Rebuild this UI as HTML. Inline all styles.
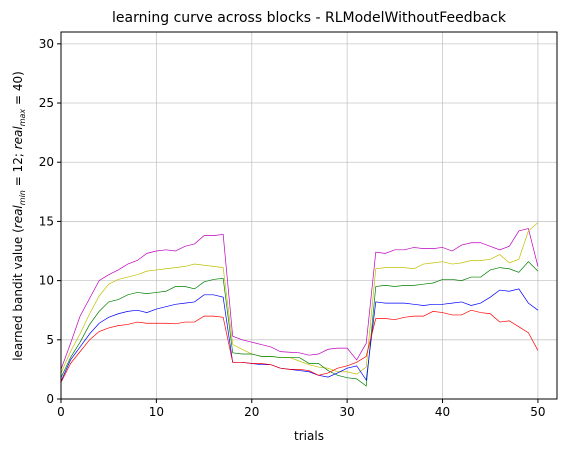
<!DOCTYPE html>
<html><head><meta charset="utf-8"><style>
body{margin:0;background:#fff;font-family:"Liberation Sans","DejaVu Sans",sans-serif;}
svg text{font-family:"DejaVu Sans","Liberation Sans",sans-serif;}
</style></head><body>
<svg id="chart" width="566" height="453" viewBox="0 0 566 453" xmlns="http://www.w3.org/2000/svg">
<rect width="566" height="453" fill="#fff"/>
<g id="grid"></g>
<g id="series"></g>
<rect x="61" y="32" width="496" height="367" fill="none" stroke="#000" stroke-width="1"/>
<g id="axes"></g>
<text x="309" y="22" font-size="14" text-anchor="middle">learning curve across blocks - RLModelWithoutFeedback</text>
<text x="309" y="440" font-size="12" text-anchor="middle">trials</text>
<text transform="translate(22,216) rotate(-90)" font-size="12" text-anchor="middle">learned bandit value (<tspan font-style="italic">real</tspan><tspan font-size="8" dy="3" font-style="italic">min</tspan><tspan dy="-3"> = 12; </tspan><tspan font-style="italic">real</tspan><tspan font-size="8" dy="3" font-style="italic">max</tspan><tspan dy="-3"> = 40)</tspan></text>
</svg>
<script>
const xTicks=[0,10,20,30,40,50];
const yTicks=[0,5,10,15,20,25,30];
const magentaValues=[2.5,4.7,7,8.5,10,10.5,10.9,11.4,11.7,12.3,12.5,12.6,12.5,12.9,13.1,13.8,13.8,13.9,5.3,5,4.8,4.6,4.4,4.0,3.95,3.9,3.7,3.8,4.2,4.3,4.3,3.3,4.7,12.4,12.3,12.6,12.6,12.8,12.7,12.7,12.8,12.5,13.0,13.2,13.2,12.9,12.6,12.9,14.2,14.4,11.2];
const yellowValues=[2.2,4,5.5,7.2,8.7,9.7,10.1,10.3,10.5,10.8,10.9,11,11.1,11.2,11.4,11.3,11.2,11.1,4.6,4.2,3.8,3.6,3.6,3.5,3.5,3.2,2.9,2.7,2.6,2.3,2.3,2.1,2.7,11.0,11.1,11.1,11.1,11.0,11.4,11.5,11.6,11.4,11.5,11.7,11.7,11.8,12.2,11.5,11.8,14.2,14.9];
const greenValues=[1.8,3.5,4.8,6.3,7.4,8.2,8.4,8.8,9.0,8.9,9.0,9.1,9.5,9.5,9.3,9.9,10.1,10.2,3.9,3.8,3.8,3.6,3.6,3.5,3.5,3.5,3.0,3.0,2.4,2.0,1.8,1.7,1.1,9.5,9.6,9.5,9.6,9.6,9.7,9.8,10.1,10.1,10.0,10.3,10.3,10.9,11.1,11.0,10.7,11.6,10.8];
const blueValues=[1.5,3.3,4.4,5.5,6.4,6.9,7.2,7.4,7.5,7.3,7.6,7.8,8.0,8.1,8.2,8.8,8.8,8.6,3.1,3.1,3.0,2.9,2.9,2.6,2.5,2.4,2.3,2.0,1.85,2.2,2.6,2.8,1.6,8.2,8.1,8.1,8.1,8.0,7.9,8.0,8.0,8.1,8.2,7.9,8.1,8.6,9.2,9.1,9.3,8.1,7.5];
const redValues=[1.4,3.0,4.0,5.0,5.7,6.0,6.2,6.3,6.5,6.4,6.4,6.4,6.35,6.5,6.5,7.0,7.0,6.9,3.1,3.1,3.0,3.0,2.9,2.6,2.5,2.5,2.4,2.0,2.2,2.6,2.8,3.1,3.6,6.8,6.8,6.7,6.9,7.0,7.0,7.4,7.3,7.1,7.1,7.5,7.3,7.2,6.5,6.6,6.1,5.6,4.1];
const seriesList=[["magenta",magentaValues,"#bf00bf"],["yellow",yellowValues,"#bfbf00"],["green",greenValues,"#008000"],["blue",blueValues,"#0000ff"],["red",redValues,"#ff0000"]];
const X0=61,X1=557,Y0=399,Y1=32,XMAX=52,YMAX=31;
function sx(v){return X0+(X1-X0)*v/XMAX;}
function sy(v){return Y0-(Y0-Y1)*v/YMAX;}
const NS="http://www.w3.org/2000/svg";
function mk(t,a,p){const e=document.createElementNS(NS,t);for(const k in a)e.setAttribute(k,a[k]);p.appendChild(e);return e;}
const grid=document.getElementById('grid'),axes=document.getElementById('axes'),ser=document.getElementById('series');
xTicks.forEach(t=>{
 const g=mk('line',{x1:sx(t),x2:sx(t),y1:Y1,y2:Y0,stroke:'#b0b0b0','stroke-width':0.8,'stroke-opacity':0.7},grid);
 
 
 const tk=mk('line',{x1:sx(t),x2:sx(t),y1:Y0,y2:Y0+4,stroke:'#000'},axes);
 
 
 const l=mk('text',{x:sx(t),y:Y0+17,'font-size':12,'text-anchor':'middle'},axes);l.textContent=t;
 
 
});
yTicks.forEach(t=>{
 const g=mk('line',{x1:X0,x2:X1,y1:sy(t),y2:sy(t),stroke:'#b0b0b0','stroke-width':0.8,'stroke-opacity':0.7},grid);
 
 
 const tk=mk('line',{x1:X0-4,x2:X0,y1:sy(t),y2:sy(t),stroke:'#000'},axes);
 
 
 const l=mk('text',{x:X0-7,y:sy(t)+4,'font-size':12,'text-anchor':'end'},axes);l.textContent=t;
 
 
});
seriesList.forEach(([n,vals,c])=>{
 const p=mk('polyline',{points:vals.map((v,i)=>sx(i)+','+sy(v)).join(' '),fill:'none',stroke:c,'stroke-width':0.7},ser);
 
 
});
</script>
</body></html>
